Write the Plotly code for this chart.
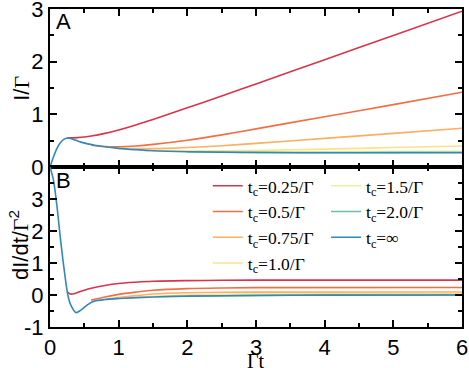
import plotly.graph_objects as go

# legend labels and colours (Spectral-like palette)
tc_labels = ['t<sub>c</sub>=0.25/Γ', 't<sub>c</sub>=0.5/Γ', 't<sub>c</sub>=0.75/Γ', 't<sub>c</sub>=1.0/Γ',
             't<sub>c</sub>=1.5/Γ', 't<sub>c</sub>=2.0/Γ', 't<sub>c</sub>=∞']
tc_colors = ['#d9344c', '#f46d43', '#fdae61', '#fee08b', '#e6f598', '#66c2a5', '#3288bd']

# panel A : I/Gamma vs Gamma t
t_a_025 = [0.25, 0.3, 0.4, 0.5, 0.6, 0.8, 1.0, 1.25, 1.5, 2.0, 2.5, 3.0, 4.0, 5.0, 6.0]
i_a_025 = [0.55, 0.553, 0.558, 0.57, 0.588, 0.639, 0.705, 0.80, 0.904, 1.124, 1.35, 1.578, 2.038, 2.498, 2.958]
t_a_05 = [0.6, 0.8, 1.0, 1.25, 1.5, 2.0, 2.5, 3.0, 4.0, 5.0, 6.0]
i_a_05 = [0.415, 0.39, 0.385, 0.40, 0.43, 0.51, 0.61, 0.725, 0.955, 1.185, 1.42]
t_a_075 = [0.8, 1.0, 1.5, 2.0, 2.5, 3.0, 4.0, 5.0, 6.0]
i_a_075 = [0.385, 0.36, 0.35, 0.37, 0.405, 0.45, 0.545, 0.64, 0.735]
t_a_10 = [1.0, 1.5, 2.0, 2.5, 3.0, 4.0, 5.0, 6.0]
i_a_10 = [0.355, 0.325, 0.312, 0.31, 0.315, 0.34, 0.37, 0.40]
t_a_15 = [1.5, 2.0, 3.0, 4.0, 5.0, 6.0]
i_a_15 = [0.31, 0.298, 0.29, 0.29, 0.295, 0.30]
t_a_20 = [2.0, 3.0, 4.0, 5.0, 6.0]
i_a_20 = [0.29, 0.278, 0.276, 0.278, 0.28]
t_a_inf = [0, 0.05, 0.1, 0.15, 0.2, 0.26, 0.3, 0.38, 0.45, 0.55, 0.65, 0.8, 1.0, 1.25, 1.5, 2.0, 2.5, 3.0, 4.0, 6.0]
i_a_inf = [0, 0.19, 0.35, 0.46, 0.525, 0.55, 0.543, 0.507, 0.473, 0.44, 0.415, 0.385, 0.355, 0.33, 0.31, 0.29, 0.28, 0.275, 0.27, 0.27]

# panel B : dI/dt / Gamma^2 vs Gamma t
t_b_025 = [0.25, 0.3, 0.35, 0.4, 0.5, 0.6, 0.8, 1.0, 1.25, 1.5, 2.0, 2.5, 3.0, 6.0]
d_b_025 = [0.1, 0.03, 0.04, 0.08, 0.15, 0.21, 0.30, 0.36, 0.40, 0.43, 0.45, 0.46, 0.465, 0.465]
t_b_05 = [0.6, 0.8, 1.0, 1.25, 1.5, 2.0, 2.5, 3.0, 6.0]
d_b_05 = [-0.16, -0.06, 0.02, 0.09, 0.15, 0.20, 0.22, 0.23, 0.235]
t_b_075 = [0.8, 1.0, 1.25, 1.5, 2.0, 2.5, 3.0, 6.0]
d_b_075 = [-0.14, -0.08, -0.02, 0.03, 0.07, 0.085, 0.09, 0.095]
t_b_10 = [1.0, 1.5, 2.0, 2.5, 3.0, 4.0, 6.0]
d_b_10 = [-0.11, -0.04, 0.0, 0.02, 0.03, 0.035, 0.04]
t_b_15 = [1.5, 2.0, 3.0, 4.0, 6.0]
d_b_15 = [-0.07, -0.03, 0.0, 0.01, 0.01]
t_b_20 = [2.0, 3.0, 4.0, 6.0]
d_b_20 = [-0.04, -0.01, 0.0, 0.0]
t_b_inf = [0, 0.05, 0.1, 0.15, 0.2, 0.26, 0.3, 0.38, 0.45, 0.55, 0.65, 0.8, 1.0, 1.5, 2.0, 3.0, 4.0, 6.0]
d_b_inf = [4.0, 3.6, 2.8, 1.8, 0.9, 0.0, -0.3, -0.55, -0.47, -0.3, -0.19, -0.14, -0.11, -0.06, -0.035, -0.015, -0.005, 0.0]

series_a = [(t_a_025, i_a_025), (t_a_05, i_a_05), (t_a_075, i_a_075), (t_a_10, i_a_10),
            (t_a_15, i_a_15), (t_a_20, i_a_20), (t_a_inf, i_a_inf)]
series_b = [(t_b_025, d_b_025), (t_b_05, d_b_05), (t_b_075, d_b_075), (t_b_10, d_b_10),
            (t_b_15, d_b_15), (t_b_20, d_b_20), (t_b_inf, d_b_inf)]

SANS = 'Liberation Sans, Arial, sans-serif'
SERIF = 'Liberation Serif, Times New Roman, serif'

fig = go.Figure()

for k, (tt, yy) in enumerate(series_a):
    fig.add_trace(go.Scatter(x=tt, y=yy, mode='lines', xaxis='x', yaxis='y',
                             line=dict(color=tc_colors[k], width=1.6, shape='spline', smoothing=0.8),
                             showlegend=False, hoverinfo='skip'))

for k, (tt, yy) in enumerate(series_b):
    fig.add_trace(go.Scatter(x=tt, y=yy, mode='lines', xaxis='x2', yaxis='y2',
                             name=tc_labels[k], legendgroup='g%d' % k,
                             legend='legend' if k < 4 else 'legend2',
                             line=dict(color=tc_colors[k], width=1.6, shape='spline', smoothing=0.8),
                             hoverinfo='skip'))

axis_common = dict(showline=True, linewidth=2, linecolor='black', mirror='ticks',
                   ticks='inside', ticklen=7, tickwidth=1.5, tickcolor='black',
                   showgrid=False, zeroline=False, automargin=False,
                   ticklabeloverflow='allow',
                   tickfont=dict(family=SANS, size=22, color='black'))
minor_x = dict(ticks='inside', ticklen=4, tickwidth=1.5, tickcolor='black', dtick=0.5, showgrid=False)

legend_common = dict(font=dict(family=SERIF, size=17.5, color='black'),
                     bgcolor='rgba(0,0,0,0)', borderwidth=0, itemwidth=30,
                     tracegroupgap=0, xanchor='left', yanchor='top')

fig.update_layout(
    width=469, height=368,
    margin=dict(l=50, r=7, t=9, b=41),
    paper_bgcolor='white', plot_bgcolor='white',
    xaxis=dict(domain=[0, 1], anchor='y', range=[0, 6], dtick=1, showticklabels=False,
               minor=minor_x, **axis_common),
    yaxis=dict(domain=[0.503, 1], anchor='x', range=[0, 3], dtick=1,
               minor=dict(minor_x), **axis_common),
    xaxis2=dict(domain=[0, 1], anchor='y2', range=[0, 6], dtick=1, matches='x',
                minor=minor_x, **axis_common),
    yaxis2=dict(domain=[0, 0.503], anchor='x2', range=[-1, 4],
                tickvals=[-1, 0, 1, 2, 3, 4], ticktext=['-1', '0', '1', '2', '3', ''],
                minor=dict(minor_x), **axis_common),
    legend=dict(x=0.383, y=0.5005, **legend_common),
    legend2=dict(x=0.670, y=0.5005, **legend_common),
    annotations=[
        dict(text='A', xref='paper', yref='paper', x=0.01, y=1.006, xanchor='left', yanchor='top',
             showarrow=False, font=dict(family=SANS, size=22, color='black')),
        dict(text='B', xref='paper', yref='paper', x=0.01, y=0.506, xanchor='left', yanchor='top',
             showarrow=False, font=dict(family=SANS, size=22, color='black')),
        # axis titles
        dict(text='I/<span style="font-family:Liberation Serif">Γ</span>', textangle=-90,
             xref='paper', yref='paper', x=-0.068, y=0.752, xanchor='center', yanchor='middle',
             showarrow=False, font=dict(family=SANS, size=22, color='black')),
        dict(text='dI/dt/<span style="font-family:Liberation Serif">Γ</span><sup>2</sup>', textangle=-90,
             xref='paper', yref='paper', x=-0.075, y=0.258, xanchor='center', yanchor='middle',
             showarrow=False, font=dict(family=SANS, size=22, color='black')),
        dict(text='Γt', xref='paper', yref='paper', x=0.5, y=-0.106, xanchor='center', yanchor='middle',
             showarrow=False, font=dict(family=SERIF, size=20, color='black')),
    ],
)

fig.write_html('out.html', config={'displayModeBar': False},
               post_script="document.body.style.margin='0';")
